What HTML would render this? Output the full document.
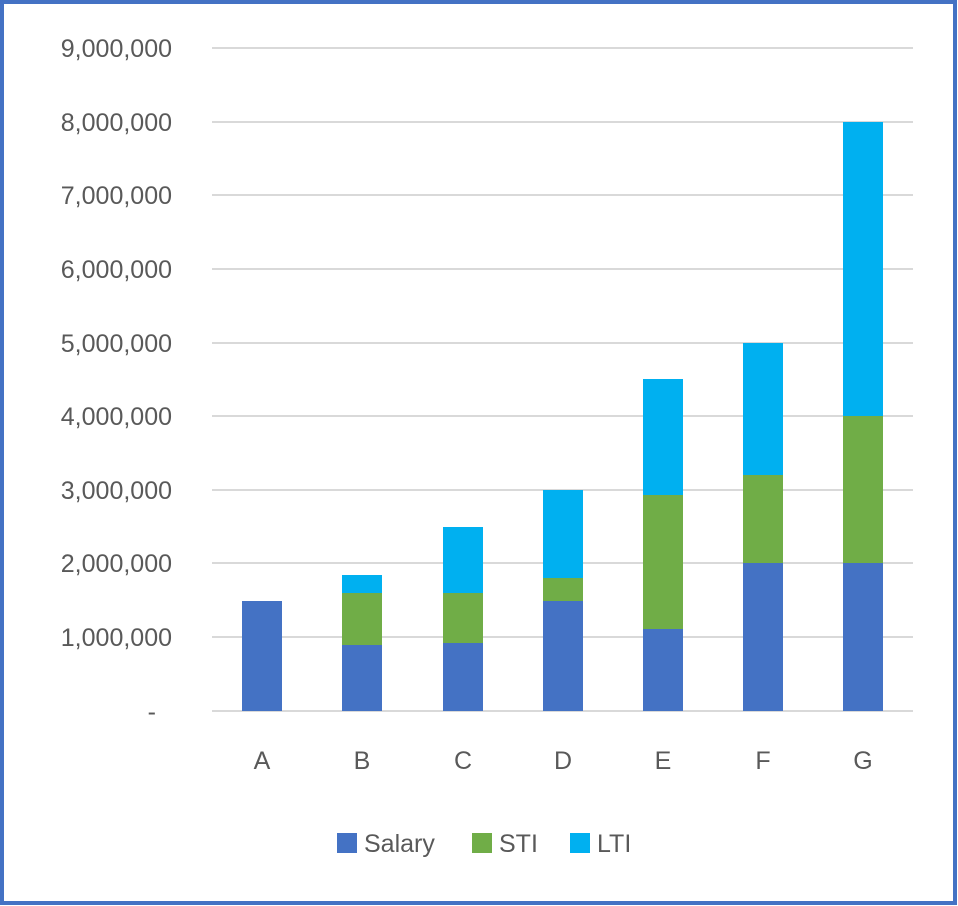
<!DOCTYPE html>
<html><head><style>
html,body{margin:0;padding:0;background:#fff;}
svg{display:block;}
text{font-family:"Liberation Sans",sans-serif;fill:#595959;}
</style></head><body>
<svg width="958" height="906" viewBox="0 0 958 906">
<rect x="2" y="2" width="953" height="901" fill="#fff" stroke="#4472c4" stroke-width="4"/>
<g stroke="#d9d9d9" stroke-width="2">
<line x1="212" y1="48" x2="913" y2="48"/>
<line x1="212" y1="122" x2="913" y2="122"/>
<line x1="212" y1="195" x2="913" y2="195"/>
<line x1="212" y1="269" x2="913" y2="269"/>
<line x1="212" y1="343" x2="913" y2="343"/>
<line x1="212" y1="416" x2="913" y2="416"/>
<line x1="212" y1="490" x2="913" y2="490"/>
<line x1="212" y1="563" x2="913" y2="563"/>
<line x1="212" y1="637" x2="913" y2="637"/>
<line x1="212" y1="711" x2="913" y2="711"/>
</g>
<g font-size="25" text-anchor="end">
<text x="172" y="57">9,000,000</text>
<text x="172" y="131">8,000,000</text>
<text x="172" y="204">7,000,000</text>
<text x="172" y="278">6,000,000</text>
<text x="172" y="352">5,000,000</text>
<text x="172" y="425">4,000,000</text>
<text x="172" y="499">3,000,000</text>
<text x="172" y="572">2,000,000</text>
<text x="172" y="646">1,000,000</text>
<text x="156" y="720">-</text>
</g>
<!-- bars -->
<g>
<rect x="242" y="601" width="40" height="110" fill="#4472c4"/>

<rect x="342" y="645" width="40" height="66" fill="#4472c4"/>
<rect x="342" y="593" width="40" height="52" fill="#70ad47"/>
<rect x="342" y="575" width="40" height="18" fill="#00b0f0"/>

<rect x="443" y="643" width="40" height="68" fill="#4472c4"/>
<rect x="443" y="593" width="40" height="50" fill="#70ad47"/>
<rect x="443" y="527" width="40" height="66" fill="#00b0f0"/>

<rect x="543" y="601" width="40" height="110" fill="#4472c4"/>
<rect x="543" y="578" width="40" height="23" fill="#70ad47"/>
<rect x="543" y="490" width="40" height="88" fill="#00b0f0"/>

<rect x="643" y="629" width="40" height="82" fill="#4472c4"/>
<rect x="643" y="495" width="40" height="134" fill="#70ad47"/>
<rect x="643" y="379" width="40" height="116" fill="#00b0f0"/>

<rect x="743" y="563" width="40" height="148" fill="#4472c4"/>
<rect x="743" y="475" width="40" height="88" fill="#70ad47"/>
<rect x="743" y="343" width="40" height="132" fill="#00b0f0"/>

<rect x="843" y="563" width="40" height="148" fill="#4472c4"/>
<rect x="843" y="416" width="40" height="147" fill="#70ad47"/>
<rect x="843" y="122" width="40" height="294" fill="#00b0f0"/>
</g>
<g font-size="25" text-anchor="middle">
<text x="262" y="769">A</text>
<text x="362" y="769">B</text>
<text x="463" y="769">C</text>
<text x="563" y="769">D</text>
<text x="663" y="769">E</text>
<text x="763" y="769">F</text>
<text x="863" y="769">G</text>
</g>
<rect x="337" y="833" width="20" height="20" fill="#4472c4"/>
<text x="364" y="852" font-size="25">Salary</text>
<rect x="472" y="833" width="20" height="20" fill="#70ad47"/>
<text x="499" y="852" font-size="25">STI</text>
<rect x="570" y="833" width="20" height="20" fill="#00b0f0"/>
<text x="597" y="852" font-size="25">LTI</text>
</svg>
</body></html>
